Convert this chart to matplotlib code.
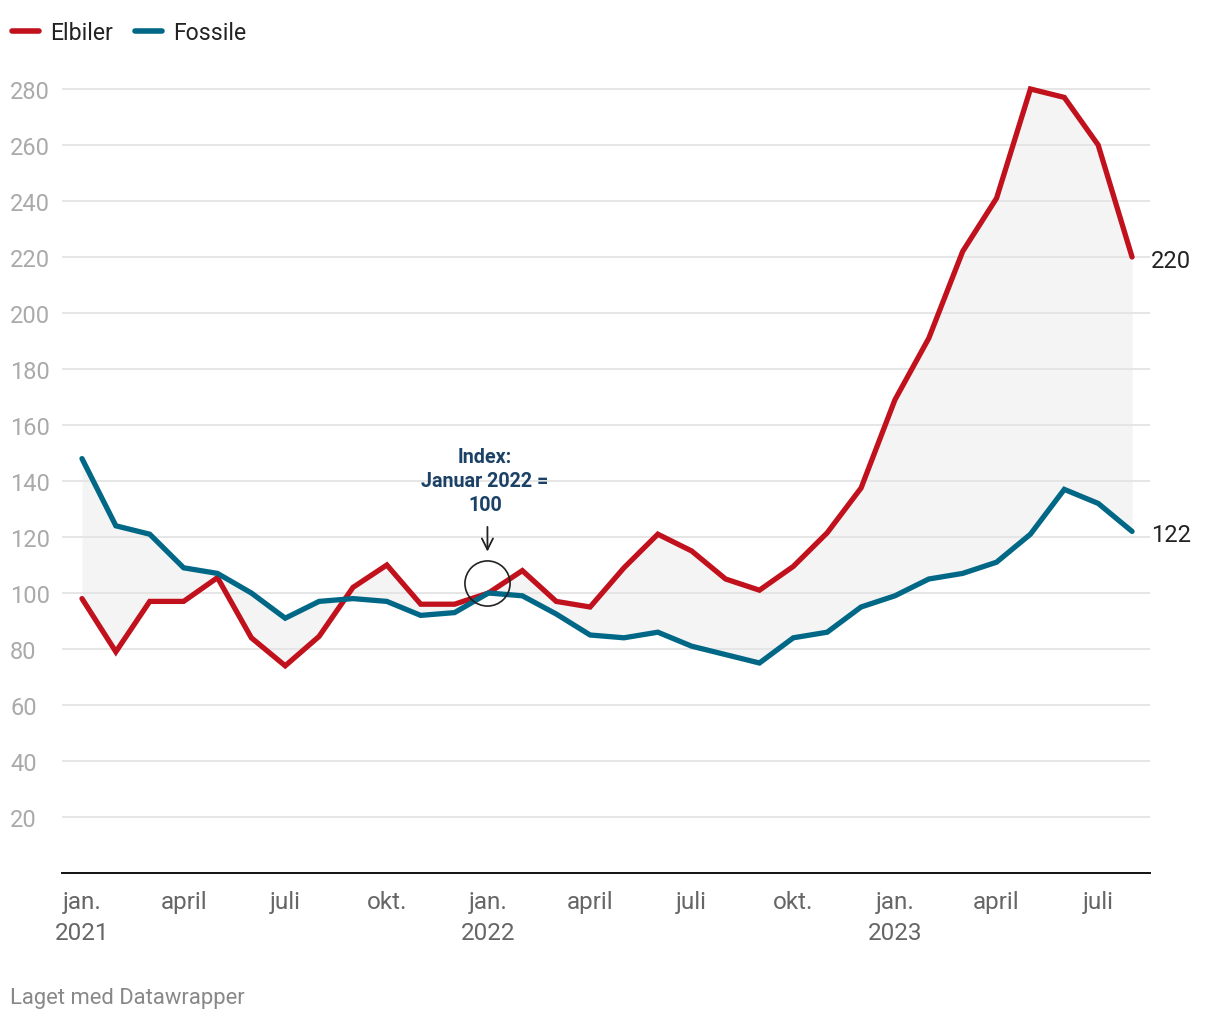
import matplotlib
matplotlib.use("Agg")
import matplotlib.pyplot as plt
from matplotlib.lines import Line2D

plt.rcParams['font.family'] = ['Roboto', 'DejaVu Sans']

months = ["2021-01", "2021-02", "2021-03", "2021-04", "2021-05", "2021-06", "2021-07", "2021-08",
          "2021-09", "2021-10", "2021-11", "2021-12", "2022-01", "2022-02", "2022-03", "2022-04",
          "2022-05", "2022-06", "2022-07", "2022-08", "2022-09", "2022-10", "2022-11", "2022-12",
          "2023-01", "2023-02", "2023-03", "2023-04", "2023-05", "2023-06", "2023-07", "2023-08"]
elbiler = [98, 79, 97, 97, 105.5, 84, 74, 84.5, 102, 110, 96, 96,
           100, 108, 97, 95, 109, 121, 115, 105, 101, 109.5, 121.5, 137.5,
           169, 191, 222, 241, 280, 277, 260, 220]
fossile = [148, 124, 121, 109, 107, 100, 91, 97, 98, 97, 92, 93,
           100, 99, 92.5, 85, 84, 86, 81, 78, 75, 84, 86, 95,
           99, 105, 107, 111, 121, 137, 132, 122]
series_names = ["Elbiler", "Fossile"]
series_colors = ["#c0111d", "#006886"]
x_tick_pos = [0, 3, 6, 9, 12, 15, 18, 21, 24, 27, 30]
x_tick_labels = ["jan.\n2021", "april", "juli", "okt.", "jan.\n2022", "april", "juli", "okt.",
                 "jan.\n2023", "april", "juli"]
y_ticks = [20, 40, 60, 80, 100, 120, 140, 160, 180, 200, 220, 240, 260, 280]

W, H = 1220, 1020
fig = plt.figure(figsize=(W / 100, H / 100), dpi=100)
ax = fig.add_axes([62 / W, (H - 874) / H, (1150 - 62) / W, (874 - 76) / H])

x = list(range(len(months)))
ax.fill_between(x, elbiler, fossile, color="#f4f4f4", lw=0, zorder=0.3)
ax.plot(x, elbiler, color=series_colors[0], lw=3.8, zorder=3, solid_joinstyle='miter', solid_capstyle='round')
ax.plot(x, fossile, color=series_colors[1], lw=3.8, zorder=3, solid_joinstyle='miter', solid_capstyle='round')

ax.set_xlim(-0.59, 31.53)
ax.set_ylim(0, 285)
ax.set_axisbelow(True)
ax.set_yticks(y_ticks)
ax.set_yticklabels([str(v) for v in y_ticks])
ax.grid(axis='y', color="#e2e2e2", lw=1.2)
ax.set_xticks(x_tick_pos)
ax.set_xticklabels(x_tick_labels, fontsize=17.5, color="#666666", linespacing=1.45, va='top')
ax.tick_params(axis='x', length=0, pad=12)
ax.tick_params(axis='y', length=0, pad=37.4, labelsize=17, labelcolor="#aaaaaa")
for lab in ax.get_yticklabels():
    lab.set_horizontalalignment('left')
for s in ['top', 'right', 'left']:
    ax.spines[s].set_visible(False)
ax.spines['bottom'].set_color("#111111")
ax.spines['bottom'].set_linewidth(1.4)

# end labels
ax.annotate(str(elbiler[-1]), xy=(x[-1], elbiler[-1]), xytext=(13.5, -2.5), textcoords='offset points',
            fontsize=17, color="#222222", va='center', ha='left')
ax.annotate(str(fossile[-1]), xy=(x[-1], fossile[-1]), xytext=(13.5, -2.5), textcoords='offset points',
            fontsize=17, color="#222222", va='center', ha='left')

# annotation
ax.text(11.9, 140.3, "Index:\nJanuar 2022 =\n100", ha='center', va='center', fontsize=14.2,
        fontweight='bold', color="#1b4266", linespacing=1.34)
ax.annotate('', xy=(11.97, 113.8), xytext=(11.97, 124.6),
            arrowprops=dict(arrowstyle='->', color='#222222', lw=1.3, mutation_scale=20))
ax.plot([11.95], [103.6], marker='o', ms=32.5, mfc='none', mec='#222222', mew=1.2, zorder=4)

# legend
for i, (name, col) in enumerate(zip(series_names, series_colors)):
    x0 = [12, 135][i]
    fig.add_artist(Line2D([x0 / W, (x0 + 27) / W], [1 - 32 / H, 1 - 32 / H], color=col, lw=4,
                          solid_capstyle='round', transform=fig.transFigure))
    fig.text((x0 + 38) / W, 1 - 33.5 / H, name, fontsize=16.6, color="#222222", va='center', ha='left')

fig.text(10 / W, 1 - 998.5 / H, "Laget med Datawrapper", fontsize=15.8, color="#888888", va='center', ha='left')

fig.savefig("out.png", dpi=100, facecolor='white')
